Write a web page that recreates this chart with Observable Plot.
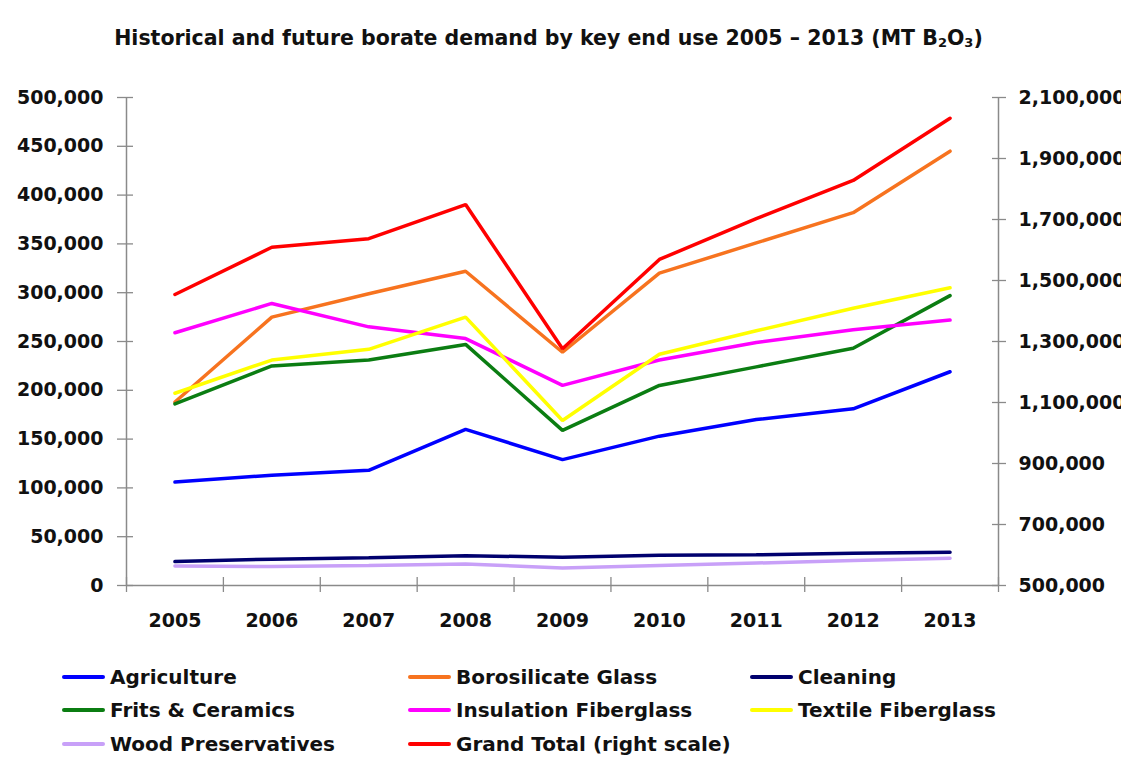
<!DOCTYPE html>
<html><head><meta charset="utf-8">
<script src="https://cdn.jsdelivr.net/npm/d3@7"></script>
<script src="https://cdn.jsdelivr.net/npm/@observablehq/plot@0.6"></script>
<style>
body{margin:0;background:#fff;font-family:"DejaVu Sans",sans-serif;color:#111;}
#title{height:64px;padding-top:6px;display:flex;align-items:center;justify-content:center;padding-right:24px;font-weight:bold;font-size:20.5px;white-space:nowrap;}
#title sub{font-size:13px;position:relative;top:5px;vertical-align:baseline;line-height:0;}
#legend{display:grid;grid-template-columns:346px 342px 320px;grid-auto-rows:33.5px;padding-left:62px;margin-top:10px;font-weight:bold;font-size:20px;}
.item{display:flex;align-items:center;white-space:nowrap;}
.sw{display:inline-block;width:43px;height:4px;margin-right:5px;border-radius:2px;}
</style></head><body>
<div id="title">Historical and future borate demand by key end use 2005 – 2013 (MT B<sub>2</sub>O<sub>3</sub>)</div>
<div id="chart"></div>
<div id="legend"></div>
<script>
const years = [2005, 2006, 2007, 2008, 2009, 2010, 2011, 2012, 2013];
const agriculture  = [106000, 113000, 118000, 160000, 129000, 153000, 170000, 181000, 219000];
const borosilicate = [188000, 275000, 299000, 322000, 239000, 320000, 351000, 382000, 445000];
const cleaning     = [24500, 27000, 28500, 30500, 29000, 31000, 31500, 33000, 34000];
const frits        = [186000, 225000, 231000, 247000, 159000, 205000, 224000, 243000, 297000];
const insulation   = [259000, 289000, 265000, 253000, 205000, 231000, 249000, 262000, 272000];
const textile      = [197000, 231000, 242000, 275000, 169000, 237000, 261000, 284000, 305000];
const wood         = [20000, 19500, 20500, 22000, 18000, 20500, 23000, 25500, 28000];
const grandTotal   = [1454000, 1609000, 1637000, 1749000, 1276000, 1569000, 1703000, 1828000, 2032000];

const leftTicks  = [0, 50000, 100000, 150000, 200000, 250000, 300000, 350000, 400000, 450000, 500000];
const rightTicks = [500000, 700000, 900000, 1100000, 1300000, 1500000, 1700000, 1900000, 2100000];
const leftDomain = [0, 500000];
const rightDomain = [500000, 2100000];

const seriesNames  = ["Agriculture", "Borosilicate Glass", "Cleaning", "Frits & Ceramics", "Insulation Fiberglass", "Textile Fiberglass", "Wood Preservatives", "Grand Total (right scale)"];
const seriesColors = ["#0000ff", "#f7731f", "#00006e", "#0b7d12", "#ff00ff", "#ffff00", "#c8a0f8", "#ff0000"];
const seriesValues = [agriculture, borosilicate, cleaning, frits, insulation, textile, wood, grandTotal];
const onRight      = [false, false, false, false, false, false, false, true];

const toLeft = v => leftDomain[0] + (v - rightDomain[0]) / (rightDomain[1] - rightDomain[0]) * (leftDomain[1] - leftDomain[0]);
const fromLeft = v => rightDomain[0] + (v - leftDomain[0]) / (leftDomain[1] - leftDomain[0]) * (rightDomain[1] - rightDomain[0]);

const rows = seriesNames.flatMap((name, s) => years.map((yr, i) => ({
  series: name, year: yr, value: onRight[s] ? toLeft(seriesValues[s][i]) : seriesValues[s][i]
})));

const xDomain = [years[0] - 0.5, years[years.length - 1] + 0.5];
const boundaries = [...years.map(y => y - 0.5), years[years.length - 1] + 0.5];
const fmt = d3.format(",");
const axisColor = "#8a8a8a";

const chart = Plot.plot({
  width: 1121,
  height: 580,
  marginLeft: 126,
  marginRight: 123,
  marginTop: 27,
  marginBottom: 65,
  style: {fontFamily: "DejaVu Sans, sans-serif", fontSize: "19px", fontWeight: "bold", color: "#111", background: "#fff"},
  x: {type: "linear", domain: xDomain, label: null},
  y: {domain: leftDomain, label: null},
  color: {domain: seriesNames, range: seriesColors},
  marks: [
    Plot.ruleY([0], {stroke: axisColor, strokeWidth: 1.5}),
    Plot.ruleX(xDomain, {stroke: axisColor, strokeWidth: 1.5}),
    Plot.axisY(leftTicks, {anchor: "left", label: null, tickSize: 16, dx: 7, tickFormat: () => "", stroke: axisColor, strokeWidth: 1.3}),
    Plot.axisY(leftTicks, {anchor: "left", label: null, tickSize: 0, tickPadding: 23, tickFormat: fmt, fontSize: 19, fontWeight: "bold"}),
    Plot.axisY(rightTicks.map(toLeft), {anchor: "right", label: null, tickSize: 14, dx: -7, tickFormat: () => "", stroke: axisColor, strokeWidth: 1.3}),
    Plot.axisY(rightTicks.map(toLeft), {anchor: "right", label: null, tickSize: 0, tickPadding: 20, tickFormat: d => fmt(Math.round(fromLeft(d))), fontSize: 19, fontWeight: "bold"}),
    Plot.axisX(boundaries, {anchor: "bottom", label: null, tickSize: 15, dy: -8, tickFormat: () => "", stroke: axisColor, strokeWidth: 1.3}),
    Plot.axisX(years, {anchor: "bottom", label: null, tickSize: 0, tickPadding: 28, tickFormat: d => String(d), fontSize: 19, fontWeight: "bold"}),
    Plot.lineY(rows, {x: "year", y: "value", z: "series", stroke: "series", strokeWidth: 3.5, strokeLinejoin: "miter"})
  ]
});
document.getElementById("chart").append(chart);

const legend = d3.select("#legend");
seriesNames.forEach((name, i) => {
  const item = legend.append("div").attr("class", "item");
  item.append("span").attr("class", "sw").style("background", seriesColors[i]);
  item.append("span").text(name);
});
</script>
</body></html>
